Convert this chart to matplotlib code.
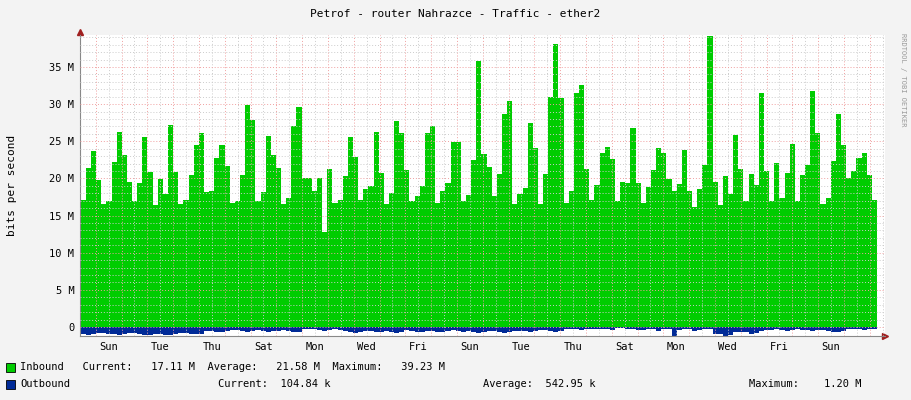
import matplotlib
matplotlib.use("Agg")
import matplotlib.pyplot as plt
import numpy as np

inbound = [17.1,21.4,23.7,19.8,16.5,16.9,22.2,26.2,23.1,19.5,16.9,19.4,25.6,20.8,16.4,19.9,17.9,27.2,20.8,16.5,
           17.1,20.5,24.5,26.1,18.2,18.3,22.8,24.5,21.7,16.7,16.9,20.5,29.9,27.8,17.0,18.2,25.7,23.1,21.4,16.5,
           17.4,27.0,29.6,20.1,20.0,18.3,20.1,12.8,21.3,16.7,17.1,20.3,25.6,
           22.9,17.1,18.6,19.0,26.2,20.7,16.5,18.0,27.7,26.1,21.1,17.0,17.7,19.0,26.1,27.1,16.7,18.3,19.4,24.9,
           24.9,16.9,17.8,22.5,35.8,23.3,21.6,17.7,20.6,28.7,30.4,16.5,17.9,18.7,27.5,24.1,16.5,20.6,31.0,38.1,
           30.8,16.7,18.3,31.5,32.6,21.3,17.1,19.1,23.4,24.2,22.6,
           16.9,19.5,19.4,26.8,19.4,16.7,18.9,21.1,24.1,23.4,19.9,18.3,19.2,23.8,18.3,16.1,18.6,21.8,39.2,19.5,
           16.4,20.3,17.9,25.8,21.3,17.0,20.6,19.1,31.5,21.0,17.0,22.1,17.4,20.7,24.6,16.9,20.4,21.8,31.8,26.1,
           16.5,17.4,22.3,28.7,24.5,20.1,21.0,22.8,23.4,20.4,17.1]
outbound = [0.9,1.0,0.9,0.8,0.8,0.9,0.9,1.0,0.9,0.8,0.8,0.9,1.0,1.0,0.9,0.9,1.0,1.0,0.9,0.8,
            0.8,0.9,0.9,0.9,0.5,0.5,0.6,0.6,0.5,0.4,0.4,0.5,0.6,0.5,0.4,0.5,0.6,0.5,0.5,0.4,
            0.5,0.7,0.7,0.3,0.2,0.3,0.4,0.5,0.4,0.3,0.4,0.5,0.7,
            0.8,0.6,0.5,0.5,0.6,0.7,0.5,0.6,0.8,0.6,0.4,0.5,0.7,0.6,0.5,0.5,0.6,0.6,0.5,0.4,
            0.5,0.6,0.5,0.6,0.8,0.6,0.5,0.5,0.7,0.8,0.6,0.5,0.5,0.5,0.6,0.5,0.4,0.4,0.5,0.6,
            0.5,0.3,0.2,0.3,0.4,0.3,0.2,0.2,0.3,0.3,0.4,
            0.1,0.1,0.2,0.3,0.4,0.4,0.3,0.3,0.5,0.3,0.3,1.2,0.4,0.3,0.3,0.5,0.4,0.3,0.2,0.9,
            0.9,1.2,1.1,0.6,0.7,0.6,0.9,0.8,0.5,0.4,0.4,0.3,0.4,0.5,0.4,0.3,0.4,0.4,0.5,0.4,
            0.4,0.5,0.6,0.7,0.5,0.3,0.3,0.3,0.4,0.3,0.3]
day_labels = ["Sun","Tue","Thu","Sat","Mon","Wed","Fri","Sun","Tue","Thu","Sat","Mon","Wed","Fri","Sun"]

mono = "DejaVu Sans Mono"
fig = plt.figure(figsize=(9.11, 4.0), dpi=100, facecolor="#f3f3f3")
# pixel layout
L, R, T, B = 80, 885, 35, 336
ax = fig.add_axes([L/911, 1-B/400, (R-L)/911, (B-T)/400])
ax.set_facecolor("white")
px_per_day = 25.8
x0 = -(95.7-80)/px_per_day
x1 = (885-95.7)/px_per_day
start = (80.7-95.7)/px_per_day
end = (877-95.7)/px_per_day
n = len(inbound)
w = (end-start)/n
xs = start + w*np.arange(n)
ax.bar(xs, inbound, width=w, align="edge", color="#00cc00", linewidth=0)
ax.bar(xs, [-v for v in outbound], width=w, align="edge", color="#002a97", linewidth=0)
ax.set_xlim(x0, x1)
ax.set_ylim(-1.2, 39.3)

for d in np.arange(0, 31, 0.5):
    major = abs(d-round(d)) < 1e-6
    ax.axvline(d, color="#f0a0a0" if major else "#cccccc", lw=0.7, ls=(0,(1,2)), zorder=3)
for v in range(0, 40):
    major = v % 5 == 0
    ax.axhline(v, color="#f0a0a0" if major else "#cccccc", lw=0.7, ls=(0,(1,2)), zorder=3)

ax.set_yticks(range(0, 40, 5))
ax.set_yticklabels(["0"] + [f"{v} M" for v in range(5, 40, 5)], fontfamily=mono, fontsize=7.5)
ax.set_xticks([2*i+0.5 for i in range(len(day_labels))])
ax.set_xticklabels(day_labels, fontfamily=mono, fontsize=7.5)
ax.tick_params(length=0, pad=4)
for s in ["top", "right"]:
    ax.spines[s].set_visible(False)
ax.spines["left"].set_color("#888888")
ax.spines["bottom"].set_color("#888888")
ax.plot([0], [1.01], marker="^", color="#a02020", ms=4, transform=ax.transAxes, clip_on=False)
ax.plot([1.0], [0], marker=">", color="#a02020", ms=4, transform=ax.transAxes, clip_on=False)

fig.text(455/911, 1-14/400, "Petrof - router Nahrazce - Traffic - ether2", ha="center", va="center",
         fontfamily=mono, fontsize=8)
fig.text(12/911, 1-185/400, "bits per second", rotation=90, ha="center", va="center",
         fontfamily=mono, fontsize=8)
fig.text(903/911, 1-80/400, "RRDTOOL / TOBI OETIKER", rotation=270, ha="center", va="center",
         fontfamily=mono, fontsize=5, color="#999999")

fig.patches.append(plt.Rectangle((6/911, 1-372/400), 9/911, 9/400, transform=fig.transFigure,
                                 facecolor="#00cc00", edgecolor="black", lw=0.6))
fig.patches.append(plt.Rectangle((6/911, 1-389/400), 9/911, 9/400, transform=fig.transFigure,
                                 facecolor="#002a97", edgecolor="black", lw=0.6))
fig.text(20/911, 1-367/400, "Inbound   Current:   17.11 M  Average:   21.58 M  Maximum:   39.23 M",
         va="center", fontfamily=mono, fontsize=7.5)
fig.text(20/911, 1-384/400, "Outbound", va="center", fontfamily=mono, fontsize=7.5)
fig.text(218/911, 1-384/400, "Current:  104.84 k", va="center", fontfamily=mono, fontsize=7.5)
fig.text(483/911, 1-384/400, "Average:  542.95 k", va="center", fontfamily=mono, fontsize=7.5)
fig.text(749/911, 1-384/400, "Maximum:    1.20 M", va="center", fontfamily=mono, fontsize=7.5)

fig.savefig("out.png", dpi=100, facecolor=fig.get_facecolor())
